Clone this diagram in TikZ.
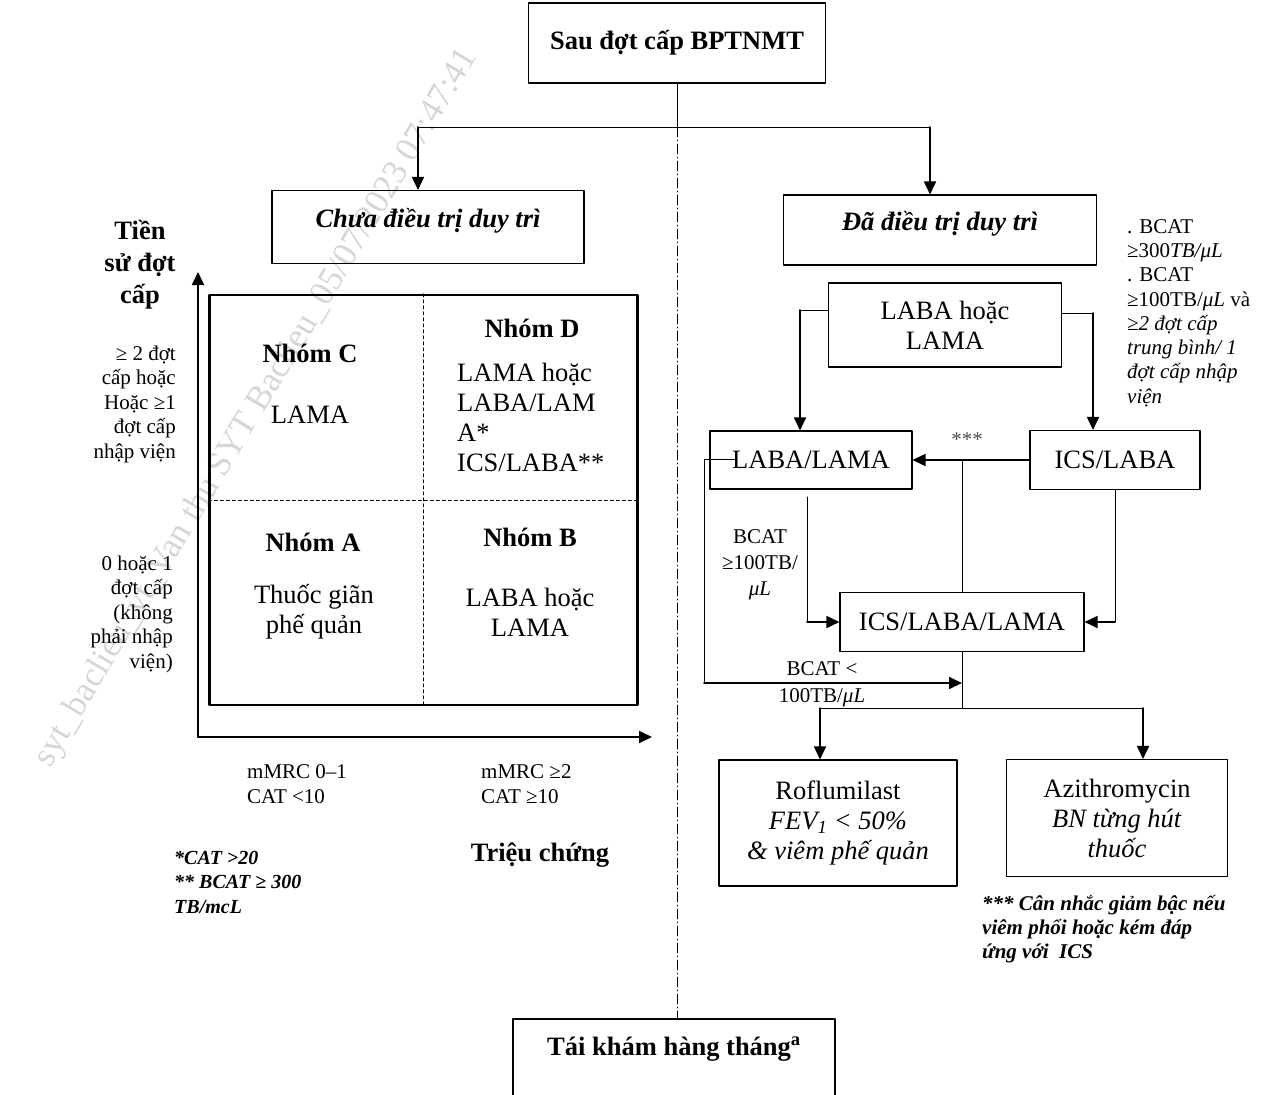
\documentclass[tikz,border=0pt]{standalone}
\usepackage{fontspec}
\setmainfont{Liberation Serif}
\usetikzlibrary{arrows}
\usetikzlibrary{arrows.meta}
\usetikzlibrary{positioning}

\begin{document}
\begin{tikzpicture}[line cap=round,line join=round,>={Triangle[length=13pt,width=12pt]},x=1pt,y=-1pt,
  bigtxt/.style={font=\fontsize{26.5}{30}\selectfont},
  smalltxt/.style={font=\fontsize{21}{24.5}\selectfont},
  boxnode/.style={draw,line width=1.1pt,align=center,inner sep=0pt,bigtxt},
  midtext/.style={text height=12pt,text depth=12pt},
  plaintxt/.style={align=center,inner sep=0pt,bigtxt},
  notetxt/.style={align=left,inner sep=0pt,smalltxt,anchor=west},
  fatarrow/.style={->,line width=1.8pt},
  thinline/.style={line width=1pt},
  dashdot/.style={line width=0.8pt,dash pattern=on 10pt off 3pt on 1pt off 3pt}]
\useasboundingbox (0,0) rectangle (1267,1095);
\clip (0,0) rectangle (1267,1095);
\node[rotate=59,text=black!16,font=\fontsize{35}{35}\selectfont] (wm) at (257,408) {syt\_baclieu\_vt\_Van thu SYT Baclieu\_05/07/2023 07:47:41};
\node[boxnode,minimum width=297pt,minimum height=80pt] (top) at (677,43) {\textbf{Sau đợt cấp BPTNMT}};
\node[boxnode,midtext,minimum width=312pt,minimum height=73pt] (chua) at (428,227) {\textbf{\textit{Chưa điều trị duy trì}}};
\node[boxnode,midtext,minimum width=313pt,minimum height=70pt] (dadt) at (940,230) {\textbf{\textit{Đã điều trị duy trì}}};
\node[boxnode,minimum width=322pt,minimum height=84pt,text height=12pt,text depth=24pt] (tk) at (674,1061) {\textbf{Tái khám hàng tháng\textsuperscript{a}}};
\coordinate (split) at (677,127);
\coordinate (jl) at (418,127);
\coordinate (jr) at (930,127);
\draw[thinline] (top.south) -- (split);
\draw[dashdot] (split) -- (split |- tk.north);
\draw[thinline] (jl) -- (jr);
\draw[fatarrow] (jl) -- (jl |- chua.north);
\draw[fatarrow] (jr) -- (jr |- dadt.north);
\coordinate (origin) at (198,737);
\coordinate (ytip) at (198,272);
\coordinate (xtip) at (652,737);
\draw[fatarrow] (origin) -- (ytip);
\draw[fatarrow] (origin) -- (xtip);
\node[draw,line width=2.4pt,minimum width=428pt,minimum height=410pt,inner sep=0pt] (grid) at (423.5,500) {};
\draw[dashed,thinline] (grid.north) -- (grid.south);
\draw[dashed,thinline] (grid.west) -- (grid.east);
\node[plaintxt] (grpc) at (310,353) {\textbf{Nhóm C}};
\node[plaintxt] (grpcdrug) at (310,415) {LAMA};
\node[plaintxt] (grpd) at (532,328) {\textbf{Nhóm D}};
\node[plaintxt,align=left,anchor=west] (grpddrug) at (457,417) {LAMA hoặc\\LABA/LAM\\A*\\ICS/LABA**};
\node[plaintxt] (grpa) at (313,542) {\textbf{Nhóm A}};
\node[plaintxt] (grpadrug) at (314,612) {Thuốc giãn\\phế quản};
\node[plaintxt] (grpb) at (530,537) {\textbf{Nhóm B}};
\node[plaintxt] (grpbdrug) at (530,612) {LABA hoặc\\LAMA};
\node[plaintxt,font=\fontsize{26.5}{32}\selectfont] (tien) at (140,265) {\textbf{Tiền}\\\textbf{sử đợt}\\\textbf{cấp}};
\node[notetxt,align=right,anchor=east] (hi) at (176,404) {≥ 2 đợt\\cấp hoặc\\Hoặc ≥1\\đợt cấp\\nhập viện};
\node[notetxt,align=right,anchor=east] (lo) at (173,614) {0 hoặc 1\\đợt cấp\\(không\\phải nhập\\viện)};
\node[notetxt] (mm1) at (247,784) {mMRC 0–1\\CAT <10};
\node[notetxt] (mm2) at (481,784) {mMRC ≥2\\CAT ≥10};
\node[plaintxt] (trieu) at (540,855) {\textbf{Triệu chứng}};
\node[notetxt,font=\fontsize{20}{24.5}\selectfont\bfseries\itshape] (foot) at (174,882) {*CAT >20\\** BCAT ≥ 300\\TB/mcL};
\node[boxnode,minimum width=233pt,minimum height=84pt] (lorl) at (945,325) {LABA hoặc\\LAMA};
\node[boxnode,minimum width=202pt,minimum height=58pt] (ll) at (811,460) {LABA/LAMA};
\node[boxnode,minimum width=170pt,minimum height=59pt] (il) at (1115,460) {ICS/LABA};
\node[boxnode,minimum width=244pt,minimum height=59pt] (ill) at (962,622) {ICS/LABA/LAMA};
\node[boxnode,minimum width=238pt,minimum height=126pt] (rof) at (838,823) {Roflumilast\\\textit{FEV\textsubscript{1} < 50\%}\\\textit{\& viêm phế quản}};
\node[boxnode,minimum width=221pt,minimum height=117pt] (azi) at (1117,818) {Azithromycin\\\textit{BN từng hút}\\\textit{thuốc}};
\node[notetxt,font=\fontsize{21}{24.3}\selectfont] (crit) at (1127,313) {. BCAT\\≥300\textit{TB/μL}\\. BCAT\\≥100TB/\textit{μL} và\\\textit{≥2 đợt cấp}\\\textit{trung bình/ 1}\\\textit{đợt cấp nhập}\\\textit{viện}};
\node[notetxt,font=\fontsize{21}{24}\selectfont\bfseries\itshape] (stepdown) at (982,929) {*** Cân nhắc giảm bậc nếu\\viêm phổi hoặc kém đáp\\ứng với~~ICS};
\coordinate (lstub) at (800,310);
\coordinate (rstub) at (1093,313);
\draw[thinline] (lorl.west |- lstub) -- (lstub);
\draw[fatarrow] (lstub) -- (lstub |- ll.north);
\draw[thinline] (lorl.east |- rstub) -- (rstub);
\draw[fatarrow] (rstub) -- (rstub |- il.north);
\draw[fatarrow] (il.west) -- (ll.east);
\node[smalltxt,text=black!70] (stars) at (967,440) {***};
\draw[thinline] (ill.north) -- (ill.north |- ll.east);
\coordinate (bc1) at (807,497);
\draw[thinline] (bc1) -- (bc1 |- ill.west);
\draw[fatarrow] (bc1 |- ill.west) -- (ill.west);
\node[smalltxt,align=center,font=\fontsize{21}{26}\selectfont] (bc1lab) at (760,565) {BCAT\\≥100TB/\\\textit{μL}};
\draw[thinline] (il.south) -- (il.south |- ill.east);
\draw[fatarrow] (il.south |- ill.east) -- (ill.east);
\coordinate (lp1) at (735,459);
\coordinate (lp2) at (704,459);
\coordinate (lp3) at (704,683);
\draw[thinline] (lp1) -- (lp2) -- (lp3);
\draw[fatarrow] (lp3) -- (ill.south |- lp3);
\node[smalltxt,align=center,font=\fontsize{21}{27}\selectfont] (bc2lab) at (822,684) {BCAT <\\100TB/\textit{μL}};
\coordinate (sp) at (962,708);
\coordinate (spl) at (820,708);
\coordinate (spr) at (1143,708);
\draw[thinline] (ill.south) -- (sp);
\draw[thinline] (spl) -- (spr);
\draw[fatarrow] (spl) -- (spl |- rof.north);
\draw[fatarrow] (spr) -- (spr |- azi.north);
\end{tikzpicture}
\end{document}
